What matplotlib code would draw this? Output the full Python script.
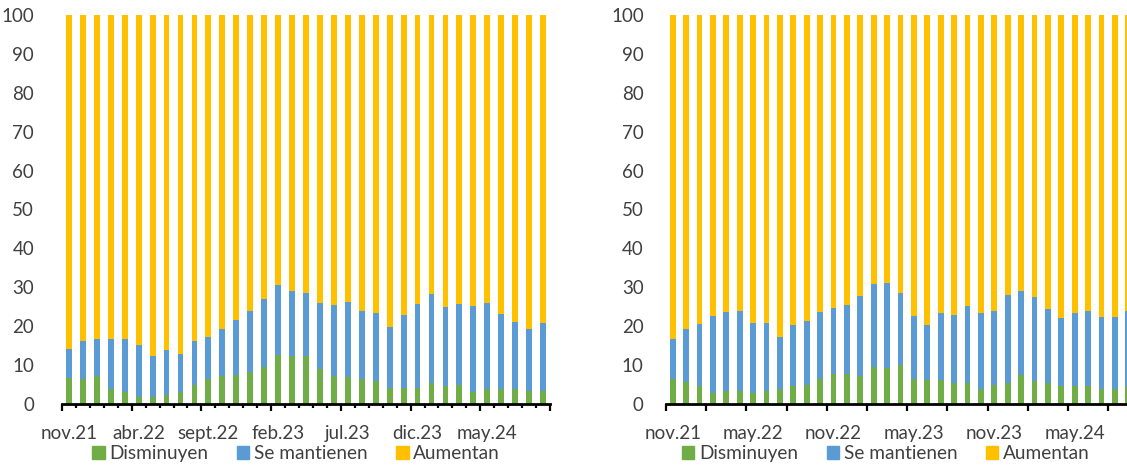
import matplotlib
matplotlib.use("Agg")
import matplotlib.pyplot as plt
from matplotlib.patches import Patch
import numpy as np

plt.rcParams['font.family'] = ['Lato', 'DejaVu Sans']

# left panel: nov.21 .. sep.24 (35 months)
left_dis = [6.8, 6.5, 7.1, 3.8, 3.2, 1.9, 1.7, 2.2, 3.2, 4.9, 6.4, 7.2, 7.4, 8.3, 9.5, 12.6, 12.4, 12.4,
            9.1, 7.1, 7.0, 6.4, 6.0, 4.0, 4.0, 4.2, 5.3, 4.5, 4.9, 3.1, 3.9, 3.8, 3.9, 3.4, 3.3]
left_top = [14.1, 16.1, 16.6, 16.8, 16.6, 15.2, 12.3, 13.8, 12.9, 16.1, 17.1, 19.4, 21.5, 23.9, 27.1, 30.7, 29.0, 28.5,
            25.9, 25.4, 26.1, 24.0, 23.3, 19.7, 22.8, 25.8, 28.2, 24.9, 25.7, 25.2, 25.9, 23.1, 21.0, 19.2, 20.8]
left_ticklabels = ['nov.21', 'abr.22', 'sept.22', 'feb.23', 'jul.23', 'dic.23', 'may.24']

# right panel: nov.21 .. sep.24 (35 months)
right_dis = [6.5, 5.6, 4.5, 2.7, 3.3, 3.3, 2.7, 3.3, 3.8, 4.7, 4.8, 6.4, 7.6, 7.8, 7.1, 9.5, 9.2, 10.0,
             6.5, 6.1, 6.1, 5.4, 5.3, 3.8, 4.8, 5.5, 7.4, 6.0, 5.4, 4.7, 4.7, 4.7, 3.8, 3.8, 4.4]
right_top = [16.6, 19.2, 20.5, 22.5, 23.6, 23.8, 20.7, 20.7, 17.1, 20.4, 21.3, 23.7, 24.6, 25.4, 27.7, 30.9, 31.1, 28.5,
             22.7, 20.2, 23.3, 23.0, 25.2, 23.4, 24.0, 28.1, 29.0, 27.4, 24.3, 22.0, 23.3, 24.0, 22.3, 22.3, 23.9]
right_ticklabels = ['nov.21', 'may.22', 'nov.22', 'may.23', 'nov.23', 'may.24']

series_names = ['Disminuyen', 'Se mantienen', 'Aumentan']
colors = ['#70AD47', '#5B9BD5', '#FFC000']
txt = '#404040'

fig = plt.figure(figsize=(11.27, 4.66), dpi=100)
axL = fig.add_axes([62/1127, 62/466, 488/1127, 389/466])
axR = fig.add_axes([666/1127, 62/466, 469/1127, 389/466])

def draw(ax, dis, top, labels, label_step, tick_step, minor, ypad, leg_x):
    dis = np.array(dis)
    top = np.array(top)
    keep = top - dis
    aum = 100 - top
    x = np.arange(len(dis))
    w = 0.42
    ax.bar(x, dis, w, color=colors[0])
    ax.bar(x, keep, w, bottom=dis, color=colors[1])
    ax.bar(x, aum, w, bottom=top, color=colors[2])
    ax.set_xlim(-0.5, len(dis) - 0.5)
    ax.set_ylim(0, 100)
    ax.set_yticks(range(0, 101, 10))
    for s in ['top', 'right', 'left']:
        ax.spines[s].set_visible(False)
    ax.spines['bottom'].set_linewidth(2)
    ax.spines['bottom'].set_color('black')
    ax.tick_params(axis='y', length=0, pad=ypad, labelsize=13.5, labelcolor=txt)
    # ticks at category boundaries, labels at bars
    ax.set_xticks(np.arange(-0.5, len(dis), tick_step))
    ax.set_xticklabels([])
    ax.tick_params(axis='x', which='major', length=5, width=1.6, color='black', direction='out')
    if minor:
        ax.set_xticks(np.arange(-0.5, len(dis), 1), minor=True)
        ax.tick_params(axis='x', which='minor', length=3.2, width=1.6, color='black')
    for i, lab in enumerate(labels):
        ax.text(i * label_step, -5.5, lab, ha='center', va='top', fontsize=13.5, color=txt,
                transform=ax.transData, clip_on=False)
    handles = [Patch(color=c) for c in colors]
    ax.legend(handles, series_names, loc='upper center', bbox_to_anchor=(leg_x, -0.105), ncol=3,
              frameon=False, fontsize=13.7, handlelength=0.65, handleheight=0.65,
              handletextpad=0.25, columnspacing=1.5, labelcolor=txt, borderpad=0, borderaxespad=0)

draw(axL, left_dis, left_top, left_ticklabels, 5, 5, True, 20, 0.48)
draw(axR, right_dis, right_top, right_ticklabels, 6, 3, False, 16, 0.469)

fig.savefig('out.png', dpi=100)
